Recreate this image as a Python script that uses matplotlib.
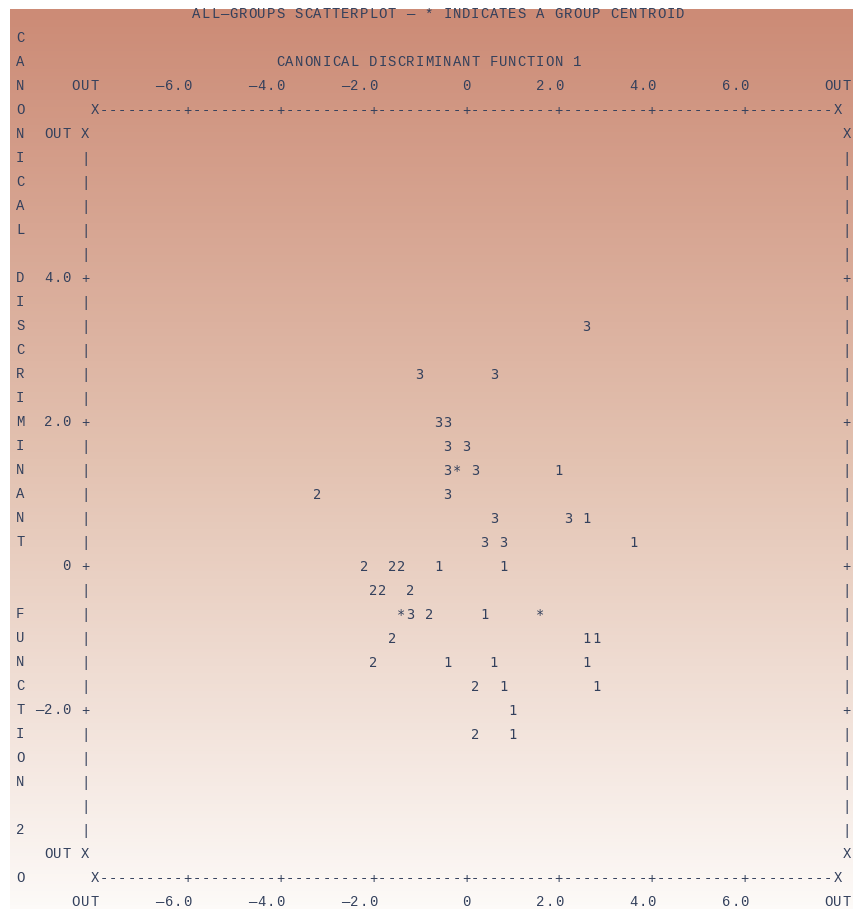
import numpy as np
import matplotlib.pyplot as plt
from matplotlib.colors import LinearSegmentedColormap

# all-groups scatterplot: group number and scores on canonical functions 1 and 2
group = [3,
         3, 3,
         3, 3,
         3, 3,
         3, 3, 1,
         2, 3,
         3, 3, 1,
         3, 3, 1,
         2, 2, 2, 1, 1,
         2, 2, 2,
         3, 2, 1,
         2, 1, 1,
         2, 1, 1, 1,
         2, 1, 1,
         1,
         2, 1]
func1 = [2.6,
         -1.0, 0.6,
         -0.6, -0.4,
         -0.4, 0.0,
         -0.4, 0.2, 2.0,
         -3.2, -0.4,
         0.6, 2.2, 2.6,
         0.4, 0.8, 3.6,
         -2.2, -1.6, -1.4, -0.6, 0.8,
         -2.0, -1.8, -1.2,
         -1.2, -0.8, 0.4,
         -1.6, 2.6, 2.8,
         -2.0, -0.4, 0.6, 2.6,
         0.2, 0.8, 2.8,
         1.0,
         0.2, 1.0]
func2 = [3.33,
         2.67, 2.67,
         2.0, 2.0,
         1.67, 1.67,
         1.33, 1.33, 1.33,
         1.0, 1.0,
         0.67, 0.67, 0.67,
         0.33, 0.33, 0.33,
         0.0, 0.0, 0.0, 0.0, 0.0,
         -0.33, -0.33, -0.33,
         -0.67, -0.67, -0.67,
         -1.0, -1.0, -1.0,
         -1.33, -1.33, -1.33, -1.33,
         -1.67, -1.67, -1.67,
         -2.0,
         -2.33, -2.33]

# group centroids (groups 1, 2, 3)
cent1 = [1.6, -1.4, -0.2]
cent2 = [-0.67, -0.67, 1.33]

# axis tick labels
xticks = [-6.0, -4.0, -2.0, 0.0, 2.0, 4.0, 6.0]
xtick_labels = ['—6.0', '—4.0', '—2.0', '0', '2.0', '4.0', '6.0']
yticks = [4.0, 2.0, 0.0, -2.0]
ytick_labels = ['4.0', '2.0', '0', '—2.0']

title = 'ALL—GROUPS SCATTERPLOT — * INDICATES A GROUP CENTROID'
xlabel = 'CANONICAL DISCRIMINANT FUNCTION 1'
ylabel = 'CANONICAL DISCRIMINANT  FUNCTION 2'

# character grid of the printout (pixels)
W, H = 854, 909
CW, C0 = 9.2875, 20.2
RH, R0 = 24.0, 14.0


def col_x(c):
    return (c - 48) * 0.2


def row_y(r):
    return (23 - r) / 3


def x_col(x):
    return int(round(x / 0.2 + 48))


def y_row(y):
    return int(round(23 - 3 * y))


ink = '#33405c'
frame_font = dict(family=['Liberation Mono', 'DejaVu Sans Mono'], size=10.0, color=ink)
mark_font = dict(family=['DejaVu Sans Mono'], size=9.9, color=ink)
base_off = 4.5 / RH / 3
mark_off = 5.0 / RH / 3

fig = plt.figure(figsize=(W / 100, H / 100), dpi=100)
ax = fig.add_axes([0, 0, 1, 1])
ax.axis('off')
ax.set_xlim(col_x((0 - C0) / CW), col_x((W - C0) / CW))
ax.set_ylim(row_y((H - R0) / RH), row_y((0 - R0) / RH))

# background gradient
cmap = LinearSegmentedColormap.from_list('bg', ['#cc8b76', '#e3c2b1', '#fdfaf8'])
grad = np.linspace(0, 1, 256).reshape(-1, 1)
ax.imshow(grad, cmap=cmap, aspect='auto', zorder=0, origin='upper',
          extent=[col_x((10 - C0) / CW), col_x((W - C0) / CW),
                  row_y((H - R0) / RH), row_y((9 - R0) / RH)])


def put(col, row, s, font=frame_font, off=base_off):
    for i, ch in enumerate(s):
        if ch != ' ':
            ax.text(col_x(col + i), row_y(row) - off, ch, ha='center',
                    va='baseline', zorder=3, **font)


# title and axis title
put(19, 0, title)
put(28, 2, xlabel)
for r, ch in enumerate(ylabel, start=1):
    put(0, r, ch)
put(0, 36, 'O')

# horizontal axes (top and bottom)
tick_cols = [x_col(t) for t in xticks]
for lab_row, ax_row in [(3, 4), (37, 36)]:
    line = 'X' + ''.join('+' if c in tick_cols else '-' for c in range(9, 88)) + 'X'
    put(8, ax_row, line)
    put(6, lab_row, 'OUT')
    put(87, lab_row, 'OUT')
    for c, lab in zip(tick_cols, xtick_labels):
        put(c - len(lab) + 1, lab_row, lab)

# vertical axes (left and right)
tick_rows = [y_row(t) for t in yticks]
for r in (5, 35):
    put(3, r, 'OUT')
    put(7, r, 'X')
    put(89, r, 'X')
for r in range(6, 35):
    ch = '+' if r in tick_rows else '|'
    put(7, r, ch)
    put(89, r, ch)
for r, lab in zip(tick_rows, ytick_labels):
    put(6 - len(lab), r, lab)

# cases, plotted with their group number
for g, x, y in zip(group, func1, func2):
    ax.text(x, y - mark_off, str(g), ha='center', va='baseline', zorder=4, **mark_font)

# group centroids
for x, y in zip(cent1, cent2):
    ax.text(x, y - mark_off, '*', ha='center', va='baseline', zorder=4, **mark_font)

fig.savefig('out.png', dpi=100)
